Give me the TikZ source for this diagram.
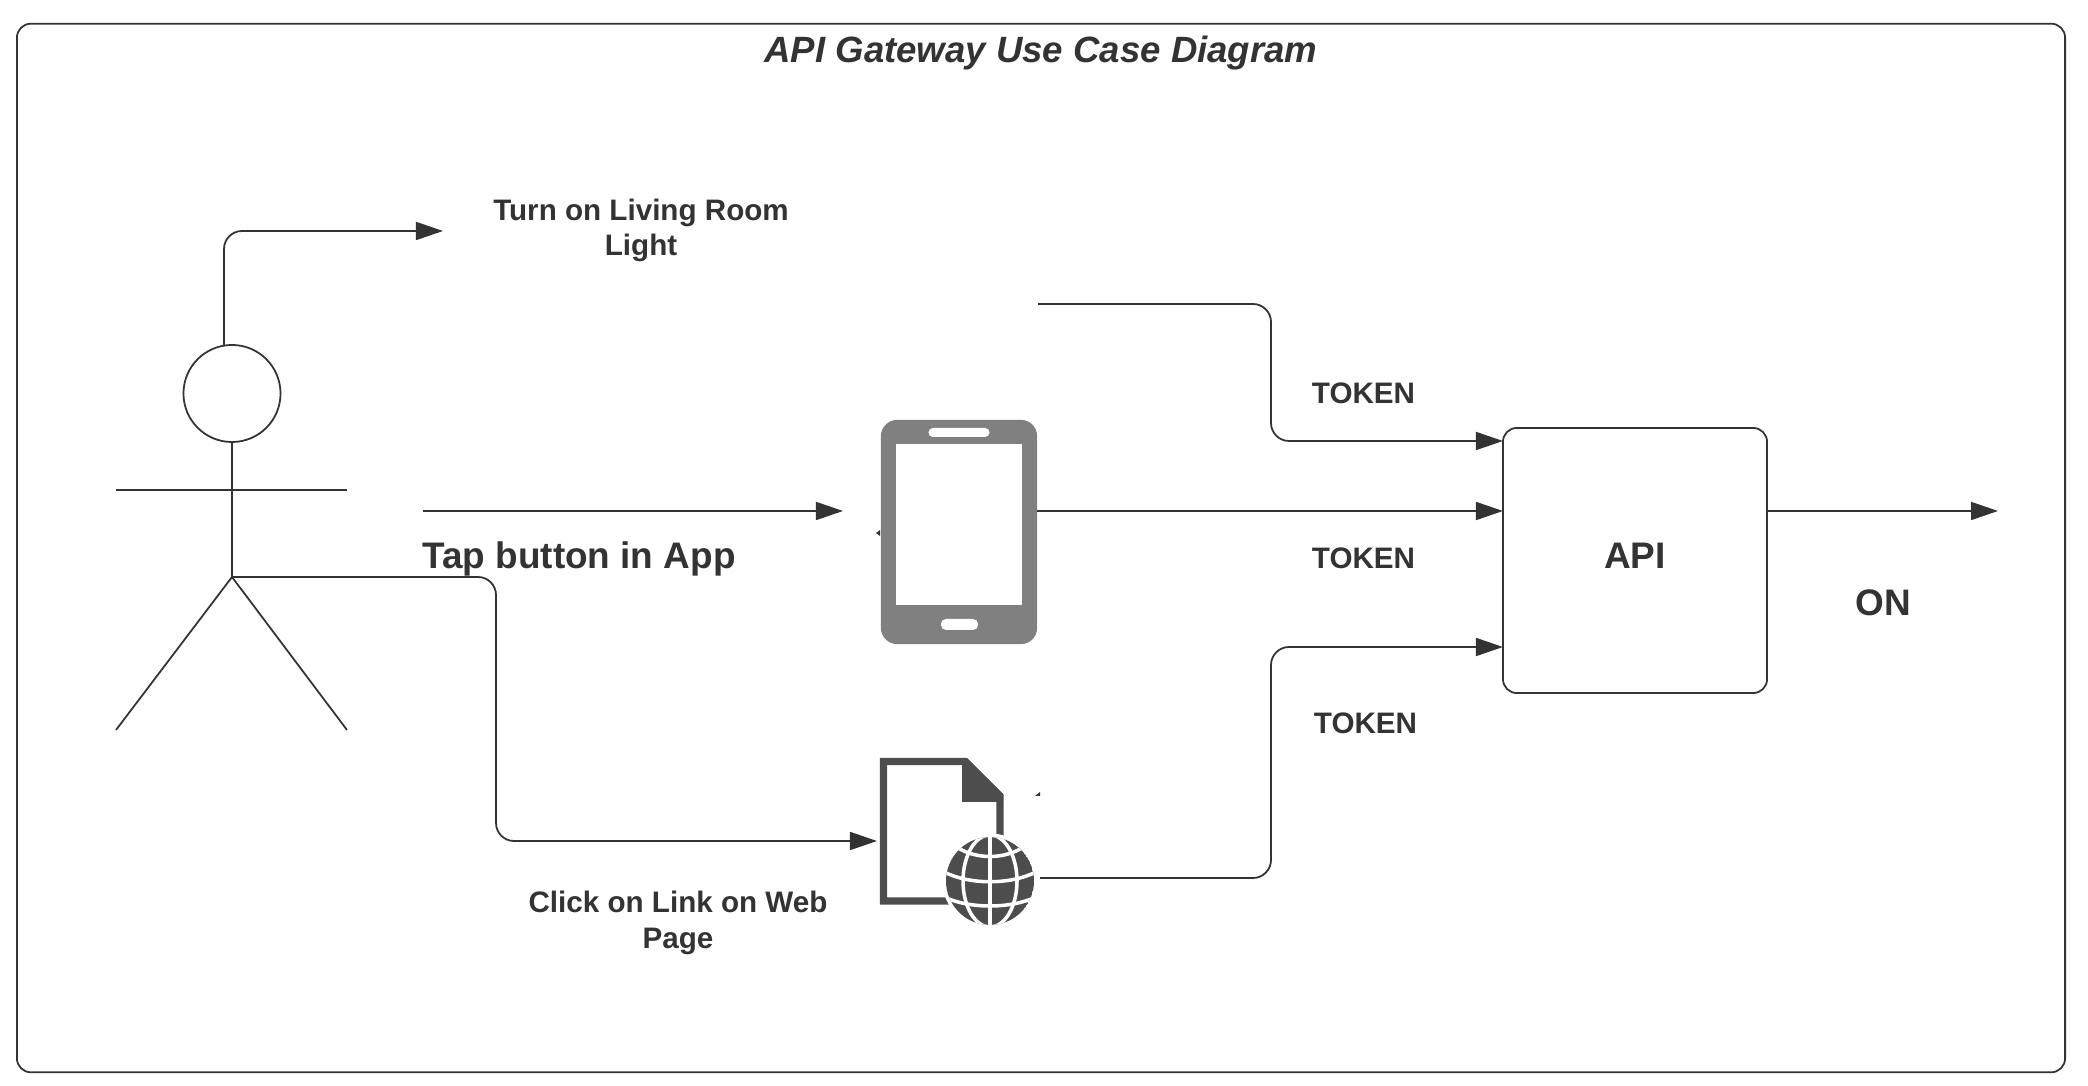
\documentclass[tikz,border=0pt]{standalone}
\usepackage{fontspec}
\setmainfont{Liberation Sans}
\usetikzlibrary{arrows.meta,shapes.geometric}
\definecolor{inkgray}{HTML}{333333}
\definecolor{phonegray}{HTML}{808080}
\definecolor{docgray}{HTML}{4D4D4D}
\begin{document}
\begin{tikzpicture}[x=0.01cm, y=-0.01cm, >={Triangle[length=2.7mm,width=1.8mm]}, line width=0.5pt, color=inkgray, text=inkgray]

\tikzstyle{conn} = [rounded corners=0.18cm]
\tikzstyle{labeltext} = [font=\fontsize{8.42}{10.15}\selectfont\bfseries, align=center, inner sep=0pt]
\tikzstyle{bigtext} = [font=\fontsize{10.5}{12.5}\selectfont\bfseries, inner sep=0pt]
\tikzstyle{box} = [draw, rounded corners=0.14cm, inner sep=0pt, outer sep=0pt]

\useasboundingbox (0, 0) rectangle (2088, 1086);
\fill[white] (0, 0) rectangle (2088, 1086);

\node[box, minimum width=20.47cm, minimum height=10.48cm] (frame) at (1041, 548) {};
\node[bigtext, font=\fontsize{10.4}{12.5}\selectfont\bfseries\itshape] (title) at (1041, 53) {API Gateway Use Case Diagram};

% --- actor
\node[draw, circle, minimum size=0.97cm, inner sep=0pt, outer sep=0pt] (head) at (232, 393.5) {};
\coordinate (hip) at (232, 577);
\coordinate (hand_l) at (116, 490);
\coordinate (hand_r) at (347, 490);
\coordinate (foot_l) at (116, 730);
\coordinate (foot_r) at (347, 730);
\draw (head.south) -- (hip);
\draw (hand_l) -- (hand_r);
\draw (foot_l) -- (hip) -- (foot_r);

% --- phone
\node[fill=phonegray, rounded corners=0.16cm, minimum width=1.56cm, minimum height=2.24cm, inner sep=0pt, outer sep=0pt] (phone) at (959, 532) {};
\node[fill=white, minimum width=1.26cm, minimum height=1.61cm, inner sep=0pt] (screen) at (959, 524.5) {};
\node[fill=white, rounded corners=0.045cm, minimum width=0.61cm, minimum height=0.09cm, inner sep=0pt] (slot_t) at (959, 432.5) {};
\node[fill=white, rounded corners=0.05cm, minimum width=0.37cm, minimum height=0.11cm, inner sep=0pt] (slot_b) at (959.5, 624.5) {};

% --- web page
\coordinate (doc_in) at (877, 841);
\node[inner sep=0pt, minimum width=1.23cm, minimum height=1.46cm] (doc) at (941.5, 831) {};
\draw[docgray, line width=2pt, miter limit=10] (1000, 850) -- (1000, 796) -- (965, 761.5) -- (883.5, 761.5) -- (883.5, 901) -- (960, 901);
\fill[docgray] (962, 763) -- (962, 802) -- (1003, 802) -- (1003, 794) -- (967, 758) -- cycle;
\node[circle, fill=white, minimum size=0.95cm, inner sep=0pt] (globe) at (990, 881) {};
\begin{scope}
\clip (globe.center) circle (44);
\fill[docgray] (globe.center) circle (44);
\draw[white, line width=1pt] (globe.center) ellipse (27 and 46);
\draw[white, line width=1pt] (990, 830) -- (990, 930);
\draw[white, line width=1pt] (955, 846) .. controls (975, 860) and (1005, 860) .. (1025, 846);
\draw[white, line width=1pt] (944, 872) .. controls (970, 885) and (1010, 885) .. (1036, 872);
\draw[white, line width=1pt] (944, 897) .. controls (970, 909) and (1010, 909) .. (1036, 897);
\end{scope}

% --- api
\node[box, minimum width=2.64cm, minimum height=2.65cm] (api) at (1635, 560.5) {};
\node[bigtext] (lbl_api) at (1635, 556) {API};

% --- connectors
\coordinate (turn_start) at (224, 345);
\coordinate (turn_end) at (443, 231);
\coordinate (tap_start) at (423, 511);
\coordinate (tap_end) at (843, 511);
\coordinate (on_end) at (1998, 511);
\coordinate (token_top) at (1038, 304);
\coordinate (token_bot) at (1040, 878);

\draw[->, conn] (turn_start) |- (turn_end);
\draw[->] (tap_start) -- (tap_end);
\draw[->, conn] (hip) -- (496, 577) -- (496, 841) -- (doc_in);

\draw[->, conn] (token_top) -- (1271, 304) -- (1271, 441) -- (api.west |- 0, 441);
\draw[->] (phone.east |- tap_end) -- (api.west |- tap_end);
\draw[->, conn] (token_bot) -- (1271, 878) -- (1271, 647) -- (api.west |- 0, 647);
\draw[->] (api.east |- on_end) -- (on_end);

% --- stray tips
\fill (876, 533) -- (880, 530) -- (880, 536) -- cycle;
\fill (1035, 796) -- (1040, 792) -- (1040, 796) -- cycle;

% --- labels
\node[labeltext] (lbl_turn) at (641, 230.5) {Turn on Living Room\\Light};
\node[bigtext] (lbl_tap) at (579, 558.5) {Tap button in App};
\node[labeltext] (lbl_click) at (678, 923) {Click on Link on Web\\Page};
\node[labeltext] (lbl_t1) at (1363.5, 393) {TOKEN};
\node[labeltext] (lbl_t2) at (1363.5, 558) {TOKEN};
\node[labeltext] (lbl_t3) at (1365.5, 723) {TOKEN};
\node[bigtext] (lbl_on) at (1883, 603) {ON};

\end{tikzpicture}
\end{document}
